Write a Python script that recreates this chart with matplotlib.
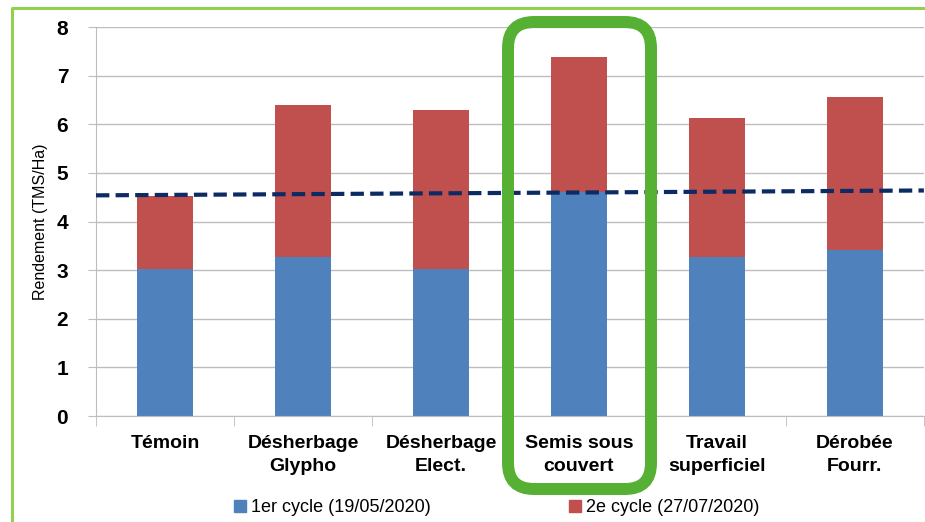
import matplotlib.pyplot as plt
from matplotlib.patches import FancyBboxPatch
from matplotlib.lines import Line2D

categories = ["Témoin", "Désherbage\nGlypho", "Désherbage\nElect.",
              "Semis sous\ncouvert", "Travail\nsuperficiel", "Dérobée\nFourr."]
cycle1 = [3.02, 3.27, 3.02, 4.61, 3.27, 3.42]
cycle2 = [1.51, 3.13, 3.28, 2.78, 2.86, 3.14]
ref_line = [4.54, 4.64]   # dashed reference, left and right ends
series_labels = ["1er cycle (19/05/2020)", "2e cycle (27/07/2020)"]

BLUE = "#4f81bd"
RED = "#c0504d"
NAVY = "#0c2a63"
GREEN = "#55b033"
FRAME = "#92d050"

plt.rcParams["font.family"] = ["Liberation Sans", "DejaVu Sans"]

fig = plt.figure(figsize=(9.25, 5.22), dpi=100)
ax = fig.add_axes([0.1038, 0.203, 0.895, 0.745])

x = range(len(categories))
ax.bar(x, cycle1, width=0.41, color=BLUE, zorder=2, label=series_labels[0])
ax.bar(x, cycle2, width=0.41, bottom=cycle1, color=RED, zorder=2, label=series_labels[1])
ax.plot([-0.5, 5.5], ref_line, color=NAVY, lw=3.0, ls=(0, (3.2, 1.5)), zorder=3)

ax.set_xlim(-0.5, 5.5)
ax.set_ylim(0, 8)
ax.set_yticks(range(0, 9))
ax.yaxis.grid(True, color="#bdbdbd", lw=1.0, zorder=0)
for s in ["top", "right"]:
    ax.spines[s].set_visible(False)
ax.spines["left"].set_color("#bdbdbd")
ax.spines["bottom"].set_color("#bdbdbd")
ax.tick_params(axis="y", length=6, color="#bdbdbd", labelsize=15, pad=14)
for t in ax.get_yticklabels():
    t.set_fontweight("bold")
ax.set_xticks([i + 0.5 for i in range(-1, 6)], minor=True)
ax.set_xticks(list(x))
ax.set_xticklabels(categories, fontsize=14, fontweight="bold", linespacing=1.45)
ax.tick_params(axis="x", which="major", length=0, pad=14)
ax.tick_params(axis="x", which="minor", length=7, color="#bdbdbd")
ax.set_ylabel("Rendement (TMS/Ha)", fontsize=11.5, labelpad=6)

handles = [Line2D([], [], marker="s", ls="", color=BLUE, markersize=8),
           Line2D([], [], marker="s", ls="", color=RED, markersize=8)]
fig.legend(handles, series_labels, loc="center", bbox_to_anchor=(0.535, 0.028),
           ncol=2, frameon=False, fontsize=13, columnspacing=7.5,
           handletextpad=0.1, handlelength=1.0)

# overlay in pixel coordinates for the frame and highlight box
ov = fig.add_axes([0, 0, 1, 1], zorder=5)
ov.set_xlim(0, 925)
ov.set_ylim(522, 0)
ov.axis("off")
ov.plot([12, 12, 925], [522, 8, 8], color=FRAME, lw=2.2, solid_capstyle="butt")
box = FancyBboxPatch((508, 22), 143, 467, boxstyle="round,pad=0,rounding_size=26",
                     fill=False, edgecolor=GREEN, linewidth=8.6)
ov.add_patch(box)

fig.savefig("out.png", dpi=100, facecolor="white")
